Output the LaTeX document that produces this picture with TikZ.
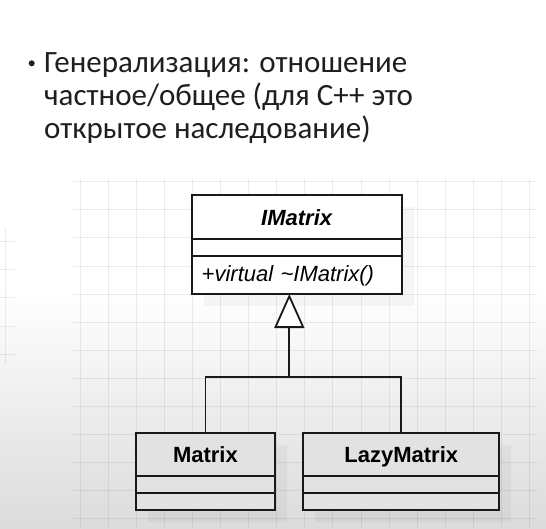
\documentclass[tikz,border=0pt]{standalone}
\usepackage{fontspec}
\setmainfont{Liberation Sans}
\newfontfamily\slidefont{Carlito}
\usetikzlibrary{arrows.meta,positioning}
\newcommand{\GridStep}{28.1}
\definecolor{boxgray}{RGB}{226,226,226}
\pgfdeclarelayer{back}
\pgfsetlayers{back,main}

\begin{document}
\begin{tikzpicture}[x=1pt,y=-1pt,
  umlbox/.style={draw=black!90,line width=1.8pt,inner sep=0pt,outer sep=0pt,text height=16pt,text depth=0pt,font=\fontsize{22}{24}\selectfont\bfseries},
  umlops/.style={umlbox,inner xsep=10pt,text width=190pt,align=left,text height=12pt,font=\fontsize{22}{24}\selectfont\itshape},
  link/.style={draw=black!90,line width=1.8pt},
  gridline/.style={draw=black,opacity=0.07,line width=1pt},
  shadowbox/.style={fill=black,opacity=0.035}]
\useasboundingbox (0,0) rectangle (546,528);
\node[circle,fill=black!88,inner sep=0pt,minimum size=6pt] (bullet) at (31.7,63.3) {};
\node[anchor=north west,inner sep=0pt,align=left,font=\slidefont\fontsize{31}{33}\selectfont,text=black!88] (title) at (44,52) {Генерализация: отношение\\частное/общее (для C++ это\\открытое наследование)};
\node[umlbox,fill=white,minimum width=210pt,minimum height=44pt] (imatrix) at (296.7,217) {\itshape IMatrix};
\node[umlbox,fill=white,minimum width=210pt,minimum height=17pt,below=0pt of imatrix] (imatrixattr) {};
\node[umlops,fill=white,minimum height=38pt,below=0pt of imatrixattr] (imatrixops) {+virtual \textasciitilde IMatrix()};
\node[umlbox,fill=boxgray,minimum width=139pt,minimum height=43pt] (matrix) at (205.4,454.7) {Matrix};
\node[umlbox,fill=boxgray,minimum width=139pt,minimum height=17pt,below=0pt of matrix] (matrixattr) {};
\node[umlbox,fill=boxgray,minimum width=139pt,minimum height=17pt,below=0pt of matrixattr] (matrixops) {};
\node[umlbox,fill=boxgray,minimum width=196pt,minimum height=43pt] (lazymatrix) at (401.3,454.7) {LazyMatrix};
\node[umlbox,fill=boxgray,minimum width=196pt,minimum height=17pt,below=0pt of lazymatrix] (lazymatrixattr) {};
\node[umlbox,fill=boxgray,minimum width=196pt,minimum height=17pt,below=0pt of lazymatrixattr] (lazymatrixops) {};
\coordinate (hub) at (289.3,377);
\draw[link] (matrix.north) |- (hub) -| (lazymatrix.north);
\draw[link,-{Triangle[length=34pt,width=30pt,fill=white]}] (hub) -- (hub |- imatrixops.south);
\begin{pgfonlayer}{back}
\fill[white] (0,0) rectangle (546,528);
\shade[top color=white,bottom color=black!14] (0,290) rectangle (546,528);
\foreach \i in {0,...,16}{\draw[gridline] (80+\i*\GridStep,178) -- (80+\i*\GridStep,528);}
\foreach \j in {0,...,12}{\draw[gridline] (73,181.7+\j*\GridStep) -- (537,181.7+\j*\GridStep);}
\draw[gridline] (5,227) -- (5,365);
\foreach \j in {0,...,4}{\draw[gridline] (0,241.7+\j*\GridStep) -- (15,241.7+\j*\GridStep);}
\fill[shadowbox] ([shift={(12,12)}]imatrix.north west) rectangle ([shift={(12,12)}]imatrixops.south east);
\fill[shadowbox] ([shift={(12,12)}]matrix.north west) rectangle ([shift={(12,12)}]matrixops.south east);
\fill[shadowbox] ([shift={(12,12)}]lazymatrix.north west) rectangle ([shift={(12,12)}]lazymatrixops.south east);
\end{pgfonlayer}
\end{tikzpicture}
\end{document}
